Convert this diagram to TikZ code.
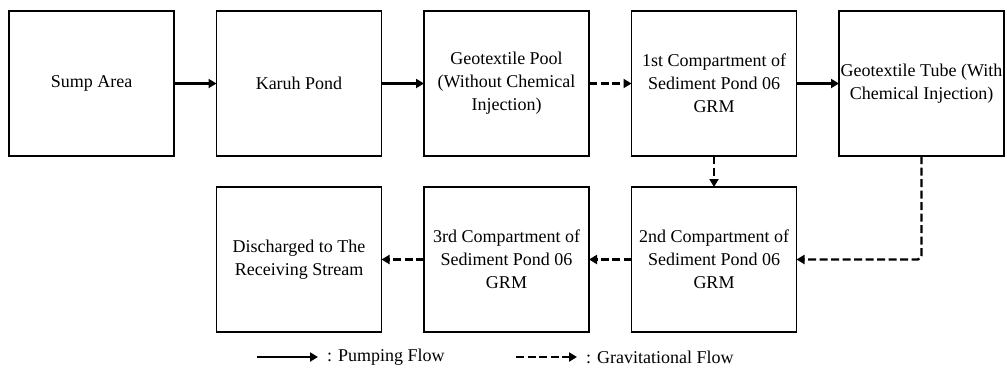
\documentclass[tikz,border=0pt]{standalone}
\usepackage{fontspec}
\setmainfont{Liberation Serif}
\usetikzlibrary{arrows.meta, positioning}

\begin{document}
\begin{tikzpicture}[
    x=1pt, y=1pt,
    node distance=31pt and 42.5pt,
    stage/.style={rectangle, draw, line width=1.1pt, outer sep=0pt, minimum width=165pt, minimum height=145pt, inner sep=0pt, align=center, font=\fontsize{18}{23}\selectfont},
    pumpflow/.style={-{Triangle[length=8pt,width=9pt]}, line width=2.4pt},
    gravflow/.style={pumpflow, dash pattern=on 8pt off 3.5pt},
    legendtext/.style={anchor=west, inner ysep=0pt, inner xsep=9pt, font=\fontsize{18}{23}\selectfont}
]
\useasboundingbox (0,0) rectangle (1007,-368);

% Top row
\node[stage] (sump) at (91.5,-83.5) {Sump Area};
\node[stage, right=of sump] (karuh) {Karuh Pond};
\node[stage, right=of karuh] (geopool) {Geotextile Pool\\(Without Chemical\\Injection)};
\node[stage, right=of geopool] (comp1) {1st Compartment of\\Sediment Pond 06\\GRM};
\node[stage, right=of comp1] (geotube) {Geotextile Tube (With\\Chemical Injection)};

% Bottom row
\node[stage, below=of comp1] (comp2) {2nd Compartment of\\Sediment Pond 06\\GRM};
\node[stage, left=of comp2] (comp3) {3rd Compartment of\\Sediment Pond 06\\GRM};
\node[stage, left=of comp3] (discharge) {Discharged to The\\Receiving Stream};

% Flows
\draw[pumpflow] (sump) -- (karuh);
\draw[pumpflow] (karuh) -- (geopool);
\draw[gravflow] (geopool) -- (comp1);
\draw[pumpflow] (comp1) -- (geotube);
\draw[gravflow] (comp1) -- (comp2);
\draw[gravflow, rounded corners=4pt] (geotube.south) |- (comp2.east);
\draw[gravflow] (comp2) -- (comp3);
\draw[gravflow] (comp3) -- (discharge);

% Legend
\coordinate (pumpstart) at (257,-357);
\node[legendtext] (pumpkey) at (318,-357) {: Pumping Flow};
\draw[pumpflow] (pumpstart) -- (pumpkey.west);
\coordinate (gravstart) at (516,-357);
\node[legendtext] (gravkey) at (577,-357) {: Gravitational Flow};
\draw[gravflow] (gravstart) -- (gravkey.west);

\end{tikzpicture}
\end{document}
